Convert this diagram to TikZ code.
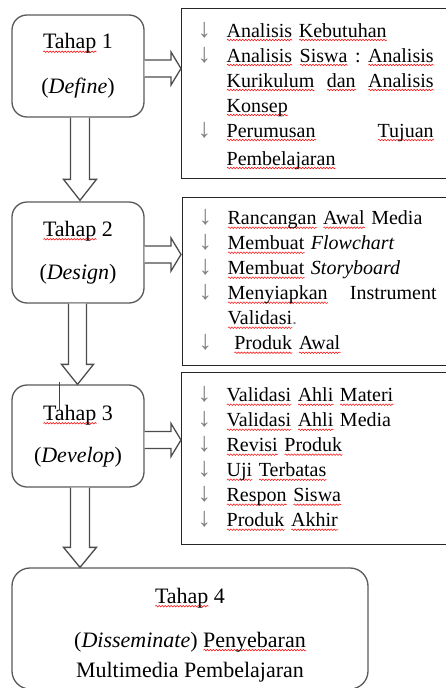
\documentclass[tikz,border=0pt]{standalone}
\usepackage{fontspec}
\setmainfont{Liberation Serif}
\usetikzlibrary{calc,decorations.pathmorphing}
\newcommand{\wav}[1]{\setbox0\hbox{#1}\leavevmode\rlap{\tikz[baseline=0pt,sharp corners]\draw[red,line width=0.5pt,decorate,decoration={snake,amplitude=0.8pt,segment length=3pt}] (0pt,-3pt) -- (\the\wd0,-3pt);}\copy0\relax}
\newcommand{\arw}{\makebox[29pt][l]{\textcolor{gray}{\fontsize{27}{27}\selectfont↓}}}
\newcommand{\nar}{\hspace*{29pt}}

\begin{document}
\begin{tikzpicture}[x=1pt,y=-1pt,
lbox/.style={draw=black!65,line width=1.3pt,rounded corners=15pt,minimum width=132pt,align=center,font=\fontsize{22}{26}\selectfont},
rbox/.style={draw=black!85,line width=1.3pt,anchor=north west,text width=268pt,inner xsep=16pt,inner ysep=0pt,align=left,font=\fontsize{20}{25}\selectfont},
blockarrow/.style={draw=black!70,line width=1.3pt,fill=white}]
\useasboundingbox (0,0) rectangle (446,688);
\clip (0,0) rectangle (446,688);

% tahap
\node[lbox,minimum height=102pt] (t1) at (78,66) {\wav{Tahap} 1\\[19pt](\textit{Define})};
\node[lbox,minimum height=101pt] (t2) at (78,252.5) {\wav{Tahap} 2\\[17pt](\textit{Design})};
\node[lbox,minimum height=102pt] (t3) at (78,436) {\wav{Tahap} 3\\[16pt](\textit{Develop})};
\node[lbox,minimum width=356pt,minimum height=121pt,rounded corners=18pt] (t4) at (190,628.5)
{\rule{0pt}{28pt}\wav{Tahap} 4\\[18pt](\textit{Disseminate}) \wav{Penyebaran}\\[4pt]Multimedia Pembelajaran};

% kegiatan
\node[rbox,minimum height=170pt] (r1) at (181,8) {\rule{0pt}{19pt}\arw\wav{Analisis} \wav{Kebutuhan}\\
\arw\makebox[207pt]{\wav{Analisis}\hfill\wav{Siswa}\hfill:\hfill\wav{Analisis}}\\
\nar\makebox[207pt]{\wav{Kurikulum}\hfill\wav{dan}\hfill\wav{Analisis}}\\
\nar\wav{Konsep}\\
\arw\makebox[207pt]{\wav{Perumusan}\hfill\wav{Tujuan}}\\[3pt]
\nar\wav{Pembelajaran}};
\node[rbox,minimum height=168pt] (r2) at (182,197) {\arw\wav{Rancangan} \wav{Awal} Media\\
\arw\wav{Membuat} \textit{Flowchart}\\
\arw\wav{Membuat} \textit{Storyboard}\\
\arw\makebox[209pt]{\wav{Menyiapkan}\hfill Instrument}\\
\nar\wav{Validasi}\textcolor{gray}{.}\\
\arw\ \wav{Produk} \wav{Awal}};
\node[rbox,minimum height=172pt] (r3) at (181,372) {\arw\wav{Validasi} \wav{Ahli} \wav{Materi}\\
\arw\wav{Validasi} \wav{Ahli} Media\\
\arw\wav{Revisi} \wav{Produk}\\
\arw\wav{Uji} \wav{Terbatas}\\
\arw\wav{Respon} \wav{Siswa}\\
\arw\wav{Produk} \wav{Akhir}};

% panah kanan
\coordinate (h1) at ($(t1.east -| r1.west)+(0,2.5)$);
\coordinate (h2) at ($(t2.east -| r2.west)+(-1,2)$);
\coordinate (h3) at ($(t3.east -| r3.west)+(0,4)$);
\draw[blockarrow] ($(h1 -| t1.east)+(0,-8.5)$) -- ($(h1)+(-10,-8.5)$) -- ($(h1)+(-10,-16.5)$) -- (h1)
-- ($(h1)+(-10,16.5)$) -- ($(h1)+(-10,8.5)$) -- ($(h1 -| t1.east)+(0,8.5)$);
\draw[blockarrow] ($(h2 -| t2.east)+(0,-8.5)$) -- ($(h2)+(-10,-8.5)$) -- ($(h2)+(-10,-16.5)$) -- (h2)
-- ($(h2)+(-10,16.5)$) -- ($(h2)+(-10,8.5)$) -- ($(h2 -| t2.east)+(0,8.5)$);
\draw[blockarrow] ($(h3 -| t3.east)+(0,-8.5)$) -- ($(h3)+(-10,-8.5)$) -- ($(h3)+(-10,-16.5)$) -- (h3)
-- ($(h3)+(-10,16.5)$) -- ($(h3)+(-10,8.5)$) -- ($(h3 -| t3.east)+(0,8.5)$);

% panah bawah
\coordinate (v1) at ($(t2.north)+(2,-1)$);
\coordinate (v2) at ($(t3.north)+(-0.5,0)$);
\coordinate (v3) at ($(t3.south |- t4.north)+(2,0)$);
\draw[blockarrow] ($(v1 |- t1.south)+(-9.5,0)$) -- ($(v1)+(-9.5,-21)$) -- ($(v1)+(-16.5,-21)$) -- (v1)
-- ($(v1)+(16.5,-21)$) -- ($(v1)+(9.5,-21)$) -- ($(v1 |- t1.south)+(9.5,0)$);
\draw[blockarrow] ($(v2 |- t2.south)+(-9,0)$) -- ($(v2)+(-9,-20)$) -- ($(v2)+(-16,-20)$) -- (v2)
-- ($(v2)+(16,-20)$) -- ($(v2)+(9,-20)$) -- ($(v2 |- t2.south)+(9,0)$);
\draw[blockarrow] ($(v3 |- t3.south)+(-9.5,0)$) -- ($(v3)+(-9.5,-20)$) -- ($(v3)+(-16.5,-20)$) -- (v3)
-- ($(v3)+(16.5,-20)$) -- ($(v3)+(9.5,-20)$) -- ($(v3 |- t3.south)+(9.5,0)$);

\draw[black!75,line width=0.8pt] (59,382) -- (59,410);
\end{tikzpicture}
\end{document}
